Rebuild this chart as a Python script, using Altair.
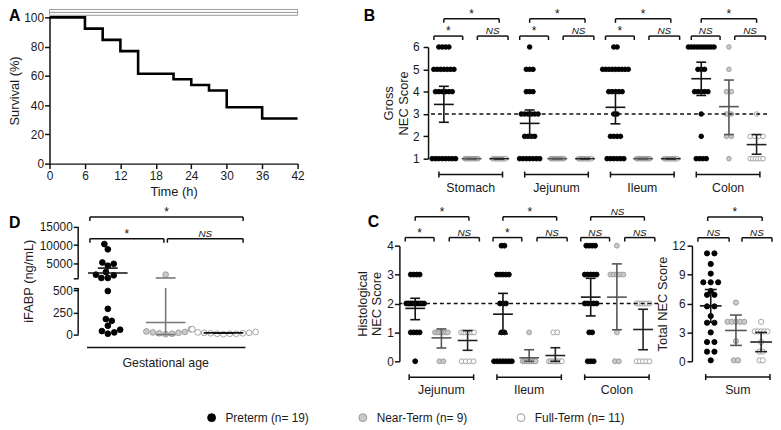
import altair as alt
import pandas as pd

FONT = "Liberation Sans"
INK = "#111111"

GROUPS = ["Preterm (n= 19)", "Near-Term (n= 9)", "Full-Term (n= 11)"]
FILLS = ["#000000", "#c9c9c9", "#ffffff"]
STROKES = ["#000000", "#9a9a9a", "#9a9a9a"]
BAR_COLORS = ["#111111", "#555555", "#222222"]

# ---------------- A: survival ----------------
KM_TIME = [0, 6, 9, 12, 15, 21, 24, 27, 30, 36, 42]
KM_SURV = [100, 92.3, 84.6, 76.9, 61.5, 57.7, 53.8, 50.0, 38.5, 30.8, 30.8]
TIME_TICKS = [0, 6, 12, 18, 24, 30, 36, 42]
SURV_TICKS = [0, 20, 40, 60, 80, 100]
STUDY_BAR_START = [0, 0]
STUDY_BAR_END = [42, 42]
STUDY_BAR_LOW = [101.4, 103.4]
STUDY_BAR_HIGH = [103.4, 105.4]

# ---------------- B: gross NEC score ----------------
GROSS_ORGANS = ["Stomach", "Jejunum", "Ileum", "Colon"]
GROSS_STOMACH_PRE = [6, 6, 6, 6, 5, 5, 5, 5, 5, 5, 5, 4, 4, 4, 4, 4, 4, 1, 1, 1, 1, 1, 1, 1, 1]
GROSS_STOMACH_NEAR = [1, 1, 1, 1, 1, 1, 1, 1, 1]
GROSS_STOMACH_FULL = [1, 1, 1, 1, 1, 1, 1, 1, 1, 1, 1]
GROSS_JEJUNUM_PRE = [6, 5, 5, 5, 4, 4, 4, 3, 3, 3, 3, 3, 3, 2, 2, 2, 2, 1, 1, 1, 1, 1, 1, 1]
GROSS_JEJUNUM_NEAR = [1, 1, 1, 1, 1, 1, 1, 1, 1]
GROSS_JEJUNUM_FULL = [1, 1, 1, 1, 1, 1, 1, 1, 1, 1, 1]
GROSS_ILEUM_PRE = [6, 6, 5, 5, 5, 5, 5, 5, 5, 5, 5, 4, 4, 4, 4, 4, 3, 3, 2, 2, 2, 2, 1, 1, 1, 1, 1, 1]
GROSS_ILEUM_NEAR = [1, 1, 1, 1, 1, 1, 1, 1, 1]
GROSS_ILEUM_FULL = [1, 1, 1, 1, 1, 1, 1, 1, 1, 1, 1]
GROSS_COLON_PRE = [6, 6, 6, 6, 6, 6, 6, 6, 6, 6, 5, 5, 5, 4, 4, 4, 4, 4, 3, 2, 1, 1, 1, 1]
GROSS_COLON_NEAR = [6, 5, 4, 4, 3, 3, 2, 2, 1]
GROSS_COLON_FULL = [3, 2, 2, 2, 2, 1, 1, 1, 1, 1, 1]
GROSS_MEAN = [3.43, 1, 1, 2.58, 1, 1, 3.30, 1, 1, 4.58, 3.33, 1.63]
GROSS_LO = [2.63, 1, 1, 1.98, 1, 1, 2.56, 1, 1, 3.83, 2.08, 1.20]
GROSS_HI = [4.24, 1, 1, 3.18, 1, 1, 3.97, 1, 1, 5.32, 4.52, 2.08]
GROSS_SIG_TOP = ["*", "*", "*", "*"]
GROSS_SIG_LEFT = ["*", "*", "*", "NS"]
GROSS_SIG_RIGHT = ["NS", "NS", "NS", "NS"]
GROSS_TICKS = [1, 2, 3, 4, 5, 6]
GROSS_CUTOFF = [3]

# ---------------- C: histological NEC score ----------------
HIST_ORGANS = ["Jejunum", "Ileum", "Colon"]
HIST_JEJUNUM_PRE = [3, 3, 3, 3, 2, 2, 2, 2, 2, 2, 2, 2, 2, 2, 1, 1, 1, 1, 0]
HIST_JEJUNUM_NEAR = [1, 1, 1, 1, 1, 1, 1, 0, 0]
HIST_JEJUNUM_FULL = [1, 1, 1, 1, 1, 1, 1, 0, 0, 0, 0]
HIST_ILEUM_PRE = [4, 4, 3, 3, 3, 3, 3, 2, 2, 2, 1, 1, 0, 0, 0, 0, 0, 0, 0]
HIST_ILEUM_NEAR = [1, 0, 0, 0, 0, 0, 0, 0, 0]
HIST_ILEUM_FULL = [1, 1, 0, 0, 0, 0, 0, 0, 0, 0, 0]
HIST_COLON_PRE = [4, 4, 4, 4, 3, 3, 3, 3, 3, 2, 2, 2, 2, 2, 1, 1, 0, 0, 0]
HIST_COLON_NEAR = [4, 3, 3, 3, 3, 3, 1, 0, 0]
HIST_COLON_FULL = [2, 2, 2, 2, 2, 2, 0, 0, 0, 0, 0]
HIST_MEAN = [1.83, 0.81, 0.72, 1.63, 0.12, 0.20, 2.22, 2.22, 1.10]
HIST_LO = [1.44, 0.46, 0.38, 0.95, 0.0, 0.0, 1.57, 1.09, 0.40]
HIST_HI = [2.18, 1.12, 1.06, 2.35, 0.40, 0.47, 2.87, 3.37, 1.80]
HIST_SIG_TOP = ["*", "*", "NS"]
HIST_SIG_LEFT = ["*", "*", "NS"]
HIST_SIG_RIGHT = ["NS", "NS", "NS"]
HIST_TICKS = [0, 1, 2, 3, 4]
HIST_CUTOFF = [2]

# ---------------- C (right): total NEC score ----------------
TOTAL_LABEL = ["Sum"]
TOTAL_PRE = [11.2, 11.2, 10.1, 9.1, 8.2, 8.2, 8.2, 7.3, 6.9, 6.9, 5.7, 5.7, 4.7, 4.0, 4.0, 3.0, 2.0, 2.0, 1.0, 1.0, 0.1]
TOTAL_NEAR = [6.1, 4.1, 4.1, 4.1, 4.1, 4.1, 2.1, 0.1, 0.1]
TOTAL_FULL = [4.1, 3.1, 3.1, 3.1, 3.1, 3.1, 2.0, 1.0, 1.0, 0.1, 0.1]
TOTAL_MEAN = [5.75, 3.2, 2.0]
TOTAL_LO = [4.05, 1.65, 1.0]
TOTAL_HI = [7.45, 4.8, 3.0]
TOTAL_SIG_TOP = ["*"]
TOTAL_SIG_LEFT = ["NS"]
TOTAL_SIG_RIGHT = ["NS"]
TOTAL_TICKS = [0, 3, 6, 9, 12]

# ---------------- D: iFABP ----------------
IFABP_PRE = [10300, 8860, 5250, 4900, 4360, 2630, 1920, 1730, 1000, 1000, 490, 290, 175, 155, 100, 55, 40, 25, 10]
IFABP_NEAR = [1920, 60, 35, 30, 25, 20, 15, 10, 5]
IFABP_FULL = [60, 30, 25, 20, 20, 15, 15, 10, 10, 10, 5]
IFABP_CENTER = [2350, 137, 20]
IFABP_LO = [740, 0, 20]
IFABP_HI = [3710, 1000, 20]
IFABP_TICKS = [0, 250, 500, 5000, 10000, 15000]
IFABP_SIG = ["*", "*", "NS"]  # top, left, right
IFABP_XLABEL = ["Gestational age"]

# ======================= helpers =======================
def row_offsets(values, sp, max_spread):
    offs = [0.0] * len(values)
    rows = {}
    for i, v in enumerate(values):
        rows.setdefault(v, []).append(i)
    for idx in rows.values():
        m = len(idx)
        if m < 2:
            continue
        s = min(sp, max_spread / (m - 1))
        for k, i in enumerate(idx):
            offs[i] = (k - (m - 1) / 2) * s
    return offs


def swarm_offsets(ypx, diam, step=0.5):
    order = sorted(range(len(ypx)), key=lambda i: ypx[i])
    placed, offs = [], [0.0] * len(ypx)
    for n, i in enumerate(order):
        k = 0
        while True:
            cands = [0.0] if k == 0 else ([k * step, -k * step] if n % 2 else [-k * step, k * step])
            ok = None
            for c in cands:
                if all((c - px) ** 2 + (ypx[i] - py) ** 2 >= diam ** 2 - 1e-9 for px, py in placed):
                    ok = c
                    break
            if ok is not None:
                break
            k += 1
        offs[i] = ok
        placed.append((ok, ypx[i]))
    return offs


def axis_kw(**extra):
    kw = dict(grid=False, labelFont=FONT, titleFont=FONT, labelFontSize=12, titleFontSize=13,
              labelColor="#1a1a1a", titleColor="#1a1a1a", titleFontWeight="normal",
              domainColor=INK, tickColor=INK, domainWidth=1.5, tickWidth=1.5, tickSize=5,
              labelPadding=2, labelFlush=False, labelOverlap=False)
    kw.update(extra)
    return alt.Axis(**kw)


def letter(ch, dx, dy):
    return alt.Chart(pd.DataFrame({"t": [ch]})).mark_text(
        font=FONT, fontSize=16, fontWeight="bold", align="left", baseline="middle", color="#000"
    ).encode(text="t:N", x=alt.value(dx), y=alt.value(dy))


fill_scale = alt.Scale(domain=GROUPS, range=FILLS)
stroke_scale = alt.Scale(domain=GROUPS, range=STROKES)


def dot_layer(df, X, Y, size, legend):
    return alt.Chart(df).mark_point(shape="circle", filled=True, size=size, opacity=1, strokeWidth=0.9).encode(
        x=X, y=Y,
        fill=alt.Fill("grp:N", scale=fill_scale, legend=legend),
        stroke=alt.Stroke("grp:N", scale=stroke_scale, legend=legend),
    )


def rule_layer(df, X, Y, width=1.5):
    return alt.Chart(df).mark_rule(strokeWidth=width).encode(
        x=X, x2="x2:Q", y=Y, y2="y2:Q", color=alt.Color("c:N", scale=None)
    )


def sig_layers(df, X, Y):
    star = alt.Chart(df[df.lab == "*"]).mark_text(
        font=FONT, fontSize=12, baseline="alphabetic", dy=-1, color=INK
    ).encode(x=X, y=Y, text="lab:N")
    ns = alt.Chart(df[df.lab == "NS"]).mark_text(
        font=FONT, fontSize=10, fontStyle="italic", baseline="alphabetic", dy=-2, color=INK
    ).encode(x=X, y=Y, text="lab:N")
    return [star, ns]


def group_panel(organs, dots, means, los, his, sig_top, sig_left, sig_right, *, unit, cat_step, g0_px,
                left_px, width, height, y_domain, y_range, y_ticks, y_title, title_pad, label_pad,
                h_top, h_small, leg, cat_y, cat_tick, cat_label_y, br_s1, br_s2, br_top, br_cat,
                mean_hw, cap_hw, sp, max_spread, size, cutoff=None, legend=None, letter_spec=None):
    x_domain = [(left_px - g0_px) / unit, (left_px + width - g0_px) / unit]
    X = alt.X("x:Q", scale=alt.Scale(domain=x_domain, nice=False, zero=False), axis=None)
    Y = alt.Y("y:Q", scale=alt.Scale(domain=y_domain, range=y_range, nice=False, zero=False),
              axis=axis_kw(values=y_ticks, title=y_title, titlePadding=title_pad, labelPadding=label_pad))

    dot_rows, bar_rows, br_rows, sig_rows, cat_rows, catlab_rows = [], [], [], [], [], []
    for c, organ in enumerate(organs):
        g = [c * cat_step + k for k in range(3)]
        for k in range(3):
            vals = dots[c][k]
            offs = row_offsets(vals, sp[k], max_spread[k])
            for v, o in zip(vals, offs):
                dot_rows.append({"x": g[k] + o / unit, "y": v, "grp": GROUPS[k]})
            i = c * 3 + k
            col = BAR_COLORS[k]
            mhw, chw = mean_hw / unit, cap_hw / unit
            bar_rows += [
                {"x": g[k] - mhw, "x2": g[k] + mhw, "y": means[i], "y2": means[i], "c": col},
                {"x": g[k] - chw, "x2": g[k] + chw, "y": los[i], "y2": los[i], "c": col},
                {"x": g[k] - chw, "x2": g[k] + chw, "y": his[i], "y2": his[i], "c": col},
                {"x": g[k], "x2": g[k], "y": los[i], "y2": his[i], "c": col},
            ]
        spans = [
            (g[0] + br_s1[0], g[1] + br_s1[1], h_small, sig_left[c]),
            (g[1] + br_s2[0], g[2] + br_s2[1], h_small, sig_right[c]),
            (g[0] + br_top[0], g[2] + br_top[1], h_top, sig_top[c]),
        ]
        for x1, x2, h, lab in spans:
            br_rows += [
                {"x": x1, "x2": x2, "y": h, "y2": h, "c": INK},
                {"x": x1, "x2": x1, "y": h, "y2": h - leg, "c": INK},
                {"x": x2, "x2": x2, "y": h, "y2": h - leg, "c": INK},
            ]
            sig_rows.append({"x": (x1 + x2) / 2, "y": h, "lab": lab})
        cx1, cx2 = g[0] + br_cat[0], g[2] + br_cat[1]
        cat_rows += [
            {"x": cx1, "x2": cx2, "y": cat_y, "y2": cat_y, "c": INK},
            {"x": cx1, "x2": cx1, "y": cat_y - cat_tick, "y2": cat_y + cat_tick, "c": INK},
            {"x": cx2, "x2": cx2, "y": cat_y - cat_tick, "y2": cat_y + cat_tick, "c": INK},
        ]
        catlab_rows.append({"x": (cx1 + cx2) / 2, "y": cat_label_y, "lab": organ})

    layers = [dot_layer(pd.DataFrame(dot_rows), X, Y, size, legend)]
    if cutoff is not None:
        layers.append(alt.Chart(pd.DataFrame({"y": cutoff})).mark_rule(
            strokeDash=[4, 3], strokeWidth=1.5, color=INK).encode(y=Y))
    layers.append(rule_layer(pd.DataFrame(bar_rows), X, Y, 1.6))
    layers.append(rule_layer(pd.DataFrame(br_rows), X, Y, 1.5))
    layers += sig_layers(pd.DataFrame(sig_rows), X, Y)
    layers.append(rule_layer(pd.DataFrame(cat_rows), X, Y, 1.5))
    layers.append(alt.Chart(pd.DataFrame(catlab_rows)).mark_text(
        font=FONT, fontSize=12.5, baseline="middle", color="#1a1a1a").encode(x=X, y=Y, text="lab:N"))
    if letter_spec:
        layers.append(letter(*letter_spec))
    return alt.layer(*layers).properties(width=width, height=height)


# ======================= panel A =======================
XA = alt.X("t:Q", scale=alt.Scale(domain=[0, 42], nice=False),
           axis=axis_kw(values=TIME_TICKS, title="Time (h)", titlePadding=4, labelPadding=2))
YA = alt.Y("s:Q", scale=alt.Scale(domain=[0, 100], nice=False),
           axis=axis_kw(values=SURV_TICKS, title="Survival (%)", titlePadding=2, labelPadding=1))
bar_df = pd.DataFrame({"t": STUDY_BAR_START, "t2": STUDY_BAR_END, "s": STUDY_BAR_LOW, "s2": STUDY_BAR_HIGH})
study_bar = alt.Chart(bar_df).mark_rect(fill="#ffffff", stroke="#9a9a9a", strokeWidth=1).encode(
    x=XA, x2="t2:Q", y=YA, y2="s2:Q")
km_df = pd.DataFrame({"t": KM_TIME, "s": KM_SURV})
km_line = alt.Chart(km_df).mark_line(interpolate="step-after", color="#000", strokeWidth=2.6).encode(x=XA, y=YA)
panel_a = alt.layer(study_bar, km_line, letter("A", -41, -1.25)).properties(width=251, height=148)

# ======================= panel B =======================
panel_b = group_panel(
    GROSS_ORGANS,
    [[GROSS_STOMACH_PRE, GROSS_STOMACH_NEAR, GROSS_STOMACH_FULL],
     [GROSS_JEJUNUM_PRE, GROSS_JEJUNUM_NEAR, GROSS_JEJUNUM_FULL],
     [GROSS_ILEUM_PRE, GROSS_ILEUM_NEAR, GROSS_ILEUM_FULL],
     [GROSS_COLON_PRE, GROSS_COLON_NEAR, GROSS_COLON_FULL]],
    GROSS_MEAN, GROSS_LO, GROSS_HI, GROSS_SIG_TOP, GROSS_SIG_LEFT, GROSS_SIG_RIGHT,
    unit=28, cat_step=3.1, g0_px=448, left_px=432, width=343, height=148,
    y_domain=[1, 6], y_range=[143, 30], y_ticks=GROSS_TICKS, y_title=["Gross", "NEC Score"],
    title_pad=2, label_pad=4,
    h_top=7.26, h_small=6.49, leg=0.177, cat_y=0.29, cat_tick=0.133, cat_label_y=-0.327,
    br_s1=(-0.36, -0.32), br_s2=(0.21, 0.32), br_top=(0, 0), br_cat=(-0.18, 0.12),
    mean_hw=10, cap_hw=5, sp=[3.4, 5, 5], max_spread=[26, 13, 13], size=22,
    cutoff=GROSS_CUTOFF, letter_spec=("B", -65, -1.25))

# ======================= panel C =======================
legend = alt.Legend(orient="none", legendX=-196, legendY=212, direction="horizontal", columns=3,
                    title=None, labelFont=FONT, labelFontSize=12, labelColor="#1a1a1a",
                    symbolSize=64, symbolStrokeWidth=1, columnPadding=48, labelOffset=8,
                    symbolType="circle")
panel_c = group_panel(
    HIST_ORGANS,
    [[HIST_JEJUNUM_PRE, HIST_JEJUNUM_NEAR, HIST_JEJUNUM_FULL],
     [HIST_ILEUM_PRE, HIST_ILEUM_NEAR, HIST_ILEUM_FULL],
     [HIST_COLON_PRE, HIST_COLON_NEAR, HIST_COLON_FULL]],
    HIST_MEAN, HIST_LO, HIST_HI, HIST_SIG_TOP, HIST_SIG_LEFT, HIST_SIG_RIGHT,
    unit=26.5, cat_step=3.35, g0_px=419, left_px=403, width=262, height=195,
    y_domain=[0, 4], y_range=[161, 44], y_ticks=HIST_TICKS, y_title=["Histological", "NEC Score"],
    title_pad=3, label_pad=1,
    h_top=5.0, h_small=4.28, leg=0.137, cat_y=-0.55, cat_tick=0.1, cat_label_y=-0.99,
    br_s1=(-0.38, -0.28), br_s2=(0.3, 0.45), br_top=(0, 0.05), br_cat=(-0.23, 0.23),
    mean_hw=10, cap_hw=5, sp=[3, 4, 4], max_spread=[18, 13, 13], size=25,
    cutoff=HIST_CUTOFF, legend=legend, letter_spec=("C", -32, 20))

panel_sum = group_panel(
    TOTAL_LABEL, [[TOTAL_PRE, TOTAL_NEAR, TOTAL_FULL]],
    TOTAL_MEAN, TOTAL_LO, TOTAL_HI, TOTAL_SIG_TOP, TOTAL_SIG_LEFT, TOTAL_SIG_RIGHT,
    unit=25.5, cat_step=0, g0_px=718, left_px=699, width=74, height=195,
    y_domain=[0, 12], y_range=[161, 44], y_ticks=TOTAL_TICKS, y_title="Total NEC Score",
    title_pad=2, label_pad=2,
    h_top=14.97, h_small=12.82, leg=0.41, cat_y=-1.64, cat_tick=0.31, cat_label_y=-2.97,
    br_s1=(-0.51, -0.27), br_s2=(0.24, 0.43), br_top=(-0.12, 0.04), br_cat=(-0.2, 0.35),
    mean_hw=11, cap_hw=6, sp=[7.5, 4.3, 3.2], max_spread=[26, 17, 13], size=28)

# ======================= panel D =======================
D_LOW_PX = 0.09
D_UP_BASE = 57.3
D_UP_PX = 0.00369
D_LOW_TOP = 525


def d_of(v):
    return v * D_LOW_PX if v <= 600 else D_UP_BASE + (v - 1000) * D_UP_PX


D_UNIT, D_G0, D_LEFT, D_W, D_AXIS = 58.5, 108, 49, 320, 78
XD = alt.X("x:Q", scale=alt.Scale(domain=[(D_LEFT - D_G0) / D_UNIT, (D_LEFT + D_W - D_G0) / D_UNIT],
                                  nice=False, zero=False), axis=None)
tick_d = [round(d_of(t), 3) for t in IFABP_TICKS]
expr = "''"
for t, dv in zip(IFABP_TICKS, tick_d):
    expr = f"(abs(datum.value - {dv}) < 0.01) ? '{t}' : ({expr})"
YD = alt.Y("y:Q", scale=alt.Scale(domain=[0, 109], range=[134, 25], nice=False, zero=False),
           axis=axis_kw(values=tick_d + [round(d_of(D_LOW_TOP), 3), round(d_of(1000), 3)],
                        labelExpr=expr, domain=False, offset=-(D_AXIS - D_LEFT),
                        title="iFABP (ng/mL)", titlePadding=4, labelPadding=1))

d_dots = []
for k, vals in enumerate([IFABP_PRE, IFABP_NEAR, IFABP_FULL]):
    ys = [d_of(v) for v in vals]
    offs = swarm_offsets(ys, 6.2)
    for yv, o in zip(ys, offs):
        d_dots.append({"x": k + o / D_UNIT, "y": yv, "grp": GROUPS[k]})

d_bars = []
D_COLORS = ["#111111", "#777777", "#111111"]
for k in range(3):
    c, lo, hi = IFABP_CENTER[k], IFABP_LO[k], IFABP_HI[k]
    col = D_COLORS[k]
    mhw, chw = 20 / D_UNIT, 10 / D_UNIT
    d_bars.append({"x": k - mhw, "x2": k + mhw, "y": d_of(c), "y2": d_of(c), "c": col})
    for v in (lo, hi):
        if v <= D_LOW_TOP or v >= 1000:
            d_bars.append({"x": k - chw, "x2": k + chw, "y": d_of(v), "y2": d_of(v), "c": col})
    if lo < D_LOW_TOP:
        d_bars.append({"x": k, "x2": k, "y": d_of(lo), "y2": d_of(min(hi, D_LOW_TOP)), "c": col})
    if hi > 1000:
        d_bars.append({"x": k, "x2": k, "y": d_of(max(lo, 1000)), "y2": d_of(hi), "c": col})

ax_x = (D_AXIS - D_G0) / D_UNIT
d_axis_rows = [
    {"x": ax_x, "x2": ax_x, "y": 0, "y2": d_of(D_LOW_TOP), "c": INK},
    {"x": ax_x, "x2": ax_x, "y": d_of(1000), "y2": d_of(IFABP_TICKS[-1]), "c": INK},
]
d_br = []
d_sig = []
for x1, x2, h, lab in [(-0.31, 2.34, 119, IFABP_SIG[0]), (-0.31, 0.97, 97, IFABP_SIG[1]),
                       (1.03, 2.34, 97, IFABP_SIG[2])]:
    d_br += [
        {"x": x1, "x2": x2, "y": h, "y2": h, "c": INK},
        {"x": x1, "x2": x1, "y": h, "y2": h - 4, "c": INK},
        {"x": x2, "x2": x2, "y": h, "y2": h - 4, "c": INK},
    ]
    d_sig.append({"x": (x1 + x2) / 2, "y": h, "lab": lab})
d_br.append({"x": -0.36, "x2": 2.38, "y": -13, "y2": -13, "c": INK})

panel_d = alt.layer(
    dot_layer(pd.DataFrame(d_dots), XD, YD, 34, None),
    rule_layer(pd.DataFrame(d_bars), XD, YD, 1.6),
    rule_layer(pd.DataFrame(d_axis_rows), XD, YD, 1.5),
    rule_layer(pd.DataFrame(d_br), XD, YD, 1.5),
    *sig_layers(pd.DataFrame(d_sig), XD, YD),
    alt.Chart(pd.DataFrame({"x": [1], "y": [-29], "lab": IFABP_XLABEL})).mark_text(
        font=FONT, fontSize=12.5, baseline="middle", color="#1a1a1a").encode(x=XD, y=YD, text="lab:N"),
    letter("D", -41, 21),
).properties(width=D_W, height=195)

# ======================= layout =======================
row1 = alt.hconcat(panel_a, panel_b, spacing=132, bounds="flush")
row2 = alt.hconcat(panel_d, panel_c, panel_sum, spacing=34, bounds="flush").resolve_scale(
    fill="independent", stroke="independent")
chart = alt.vconcat(row1, row2, spacing=4, bounds="full").resolve_scale(
    fill="independent", stroke="independent"
).properties(
    padding={"left": 0, "top": -3, "right": 0, "bottom": 0}
).configure_view(stroke=None)

chart.save("out.html", embed_options={"renderer": "svg", "actions": False})
